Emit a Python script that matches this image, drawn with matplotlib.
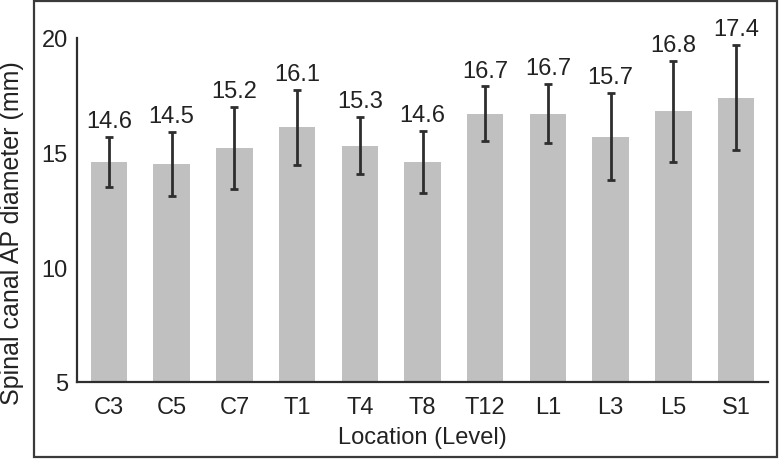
import matplotlib
matplotlib.use("Agg")
import matplotlib.pyplot as plt
from matplotlib.patches import Rectangle

levels = ["C3", "C5", "C7", "T1", "T4", "T8", "T12", "L1", "L3", "L5", "S1"]
means = [14.6, 14.5, 15.2, 16.1, 15.3, 14.6, 16.7, 16.7, 15.7, 16.8, 17.4]
sds = [1.1, 1.4, 1.8, 1.65, 1.25, 1.35, 1.2, 1.3, 1.9, 2.2, 2.3]
yticks = [5, 10, 15, 20]

plt.rcParams['font.family'] = ['Liberation Sans', 'DejaVu Sans']

fig = plt.figure(figsize=(7.83, 4.6), dpi=100)
fig.patches.append(Rectangle((34/783, 2/460), (777-34)/783, (458-2)/460,
                             transform=fig.transFigure, fill=False,
                             edgecolor='#3a3a3a', linewidth=1.6))

ax = fig.add_axes([77/783, (460-383)/460, (768-77)/783, (383-39)/460])
x = list(range(len(levels)))
ax.bar(x, [m - 5 for m in means], bottom=5, width=0.58, color='#c0c0c0', zorder=1)
ax.errorbar(x, means, yerr=sds, fmt='none', ecolor='#2e2e2e', elinewidth=2,
            capsize=2.6, capthick=2, zorder=2)
for xi, m, s in zip(x, means, sds):
    ax.text(xi, m + s + 0.42, f"{m:.1f}", ha='center', va='baseline',
            fontsize=17, color='#222222')

ax.set_xlim(-0.51, 10.51)
ax.set_ylim(5, 20)
ax.set_yticks(yticks)
ax.set_xticks(x)
ax.set_xticklabels(levels)
ax.tick_params(axis='both', length=0, labelsize=17, colors='#222222')
ax.tick_params(axis='y', pad=6.5)
ax.tick_params(axis='x', pad=10)
for sp in ['top', 'right']:
    ax.spines[sp].set_visible(False)
for sp in ['left', 'bottom']:
    ax.spines[sp].set_linewidth(1.6)
    ax.spines[sp].set_color('#2e2e2e')
ax.set_xlabel("Location (Level)", fontsize=17, color='#222222', labelpad=6)
ax.set_ylabel("Spinal canal AP diameter (mm)", fontsize=18, color='#222222',
              va='center')
ax.yaxis.set_label_coords((12.5 - 77) / (768 - 77), (383 - 233) / (383 - 39))

fig.savefig("out.png", dpi=100)
